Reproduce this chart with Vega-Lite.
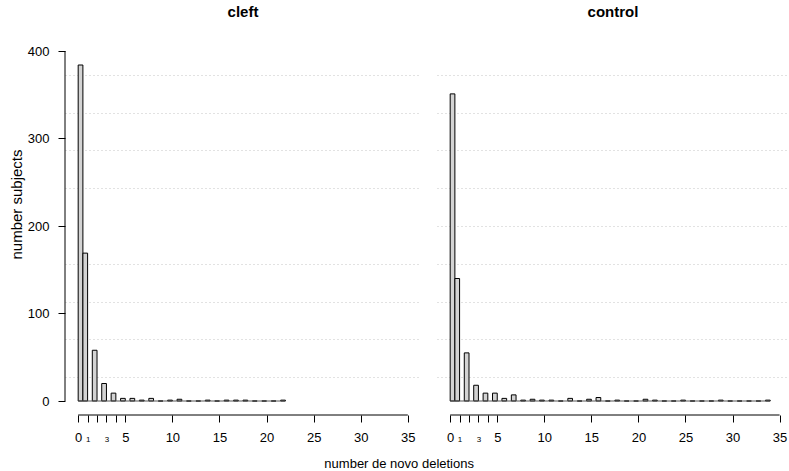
{
  "$schema": "https://vega.github.io/schema/vega-lite/v6.json",
  "padding": {"left": 9, "top": 5, "right": 0, "bottom": 0},
  "background": "white",
  "config": {"font": "Liberation Sans", "view": {"stroke": null}, "axis": {"labelOverlap": false, "labelFlush": false, "tickCount": 100}},
  "title": {"text": "number de novo deletions", "orient": "bottom", "anchor": "middle", "fontSize": 13, "fontWeight": "normal", "color": "black", "offset": 14},
  "datasets": {
    "cleft": [
      {"from": 0, "to": 0.5, "n": 384}, {"from": 0.5, "to": 1, "n": 169}, {"from": 1.5, "to": 2, "n": 58},
      {"from": 2.5, "to": 3, "n": 20}, {"from": 3.5, "to": 4, "n": 9}, {"from": 4.5, "to": 5, "n": 3},
      {"from": 5.5, "to": 6, "n": 3}, {"from": 6.5, "to": 7, "n": 1}, {"from": 7.5, "to": 8, "n": 3},
      {"from": 8.5, "to": 9, "n": 0}, {"from": 9.5, "to": 10, "n": 1}, {"from": 10.5, "to": 11, "n": 2},
      {"from": 11.5, "to": 12, "n": 0}, {"from": 12.5, "to": 13, "n": 0}, {"from": 13.5, "to": 14, "n": 1},
      {"from": 14.5, "to": 15, "n": 0}, {"from": 15.5, "to": 16, "n": 1}, {"from": 16.5, "to": 17, "n": 1},
      {"from": 17.5, "to": 18, "n": 1}, {"from": 18.5, "to": 19, "n": 0}, {"from": 19.5, "to": 20, "n": 0},
      {"from": 20.5, "to": 21, "n": 0}, {"from": 21.5, "to": 22, "n": 1}
    ],
    "control": [
      {"from": 0, "to": 0.5, "n": 351}, {"from": 0.5, "to": 1, "n": 140}, {"from": 1.5, "to": 2, "n": 55},
      {"from": 2.5, "to": 3, "n": 18}, {"from": 3.5, "to": 4, "n": 9}, {"from": 4.5, "to": 5, "n": 9},
      {"from": 5.5, "to": 6, "n": 3}, {"from": 6.5, "to": 7, "n": 7}, {"from": 7.5, "to": 8, "n": 1},
      {"from": 8.5, "to": 9, "n": 2}, {"from": 9.5, "to": 10, "n": 1}, {"from": 10.5, "to": 11, "n": 1},
      {"from": 11.5, "to": 12, "n": 0}, {"from": 12.5, "to": 13, "n": 3}, {"from": 13.5, "to": 14, "n": 0},
      {"from": 14.5, "to": 15, "n": 2}, {"from": 15.5, "to": 16, "n": 4}, {"from": 16.5, "to": 17, "n": 0},
      {"from": 17.5, "to": 18, "n": 1}, {"from": 18.5, "to": 19, "n": 0}, {"from": 19.5, "to": 20, "n": 0},
      {"from": 20.5, "to": 21, "n": 2}, {"from": 21.5, "to": 22, "n": 1}, {"from": 22.5, "to": 23, "n": 0},
      {"from": 23.5, "to": 24, "n": 0}, {"from": 24.5, "to": 25, "n": 1}, {"from": 25.5, "to": 26, "n": 0},
      {"from": 26.5, "to": 27, "n": 0}, {"from": 27.5, "to": 28, "n": 0}, {"from": 28.5, "to": 29, "n": 1},
      {"from": 29.5, "to": 30, "n": 0}, {"from": 30.5, "to": 31, "n": 0}, {"from": 31.5, "to": 32, "n": 0},
      {"from": 32.5, "to": 33, "n": 0}, {"from": 33.5, "to": 34, "n": 1}
    ]
  },
  "resolve": {"scale": {"x": "independent", "y": "independent"}},
  "spacing": 16,
  "hconcat": [
    {
      "width": 356, "height": 378,
      "title": {"text": "cleft", "fontSize": 15, "fontWeight": "bold", "color": "black", "baseline": "alphabetic", "offset": 5},
      "data": {"name": "cleft"},
      "layer": [
        {
          "mark": {"type": "bar", "fill": "#d3d3d3", "stroke": "black", "strokeWidth": 1},
          "encoding": {
            "x": {"field": "from", "type": "quantitative", "scale": {"domain": [-1.4, 36.4], "nice": false, "zero": false},
              "axis": {"title": null, "domain": false, "grid": false, "values": [0, 1, 2, 3, 4, 5, 10, 15, 20, 25, 30, 35], "tickCount": 100, "format": "d",
                "labelExpr": "datum.value == 2 || datum.value == 4 ? '' : datum.label",
                "labelFontSize": {"condition": {"test": "datum.value == 1 || datum.value == 3", "value": 8}, "value": 13},
                "labelBaseline": "alphabetic", "labelPadding": 19, "tickSize": 7, "tickColor": "black", "labelColor": "black",
                "labelOverlap": false, "labelFlush": false}},
            "x2": {"field": "to"},
            "y": {"field": "n", "type": "quantitative", "scale": {"domain": [-16, 416], "nice": false, "zero": false},
              "axis": {"title": "number subjects", "titleFontSize": 15, "titleFontWeight": "normal", "titleColor": "black", "titlePadding": 3, "titleY": 167,
                "domain": false, "grid": true, "values": [0, 27.2, 70.4, 100, 113.6, 156.8, 200, 243.2, 286.4, 300, 329.6, 372.8, 400], "tickCount": 100,
                "labelExpr": "datum.value % 100 == 0 ? datum.label : ''",
                "tickOpacity": {"condition": {"test": "datum.value % 100 == 0", "value": 1}, "value": 0},
                "gridOpacity": {"condition": {"test": "datum.value % 100 == 0", "value": 0}, "value": 1},
                "gridDash": [1, 3], "gridColor": "#c4c4c4", "tickSize": 7, "tickColor": "black", "labelOverlap": false,
                "labelFontSize": 13, "labelPadding": 9, "labelColor": "black"}},
            "y2": {"datum": 0}
          }
        },
        {
          "mark": {"type": "rule", "color": "#555555", "strokeWidth": 1},
          "encoding": {"x": {"aggregate": "min", "field": "from", "type": "quantitative"}, "x2": {"aggregate": "max", "field": "to"}, "y": {"datum": 0}}
        },
        {
          "data": {"values": [{}]},
          "mark": {"type": "rule", "color": "black", "strokeWidth": 1},
          "encoding": {"x": {"datum": 0}, "x2": {"datum": 35}, "y": {"datum": -16}}
        },
        {
          "data": {"values": [{}]},
          "mark": {"type": "rule", "color": "black", "strokeWidth": 1},
          "encoding": {"x": {"datum": -1.4}, "y": {"datum": 0}, "y2": {"datum": 400}}
        }
      ]
    },
    {
      "width": 352, "height": 378,
      "title": {"text": "control", "fontSize": 15, "fontWeight": "bold", "color": "black", "baseline": "alphabetic", "offset": 5},
      "data": {"name": "control"},
      "layer": [
        {
          "mark": {"type": "bar", "fill": "#d3d3d3", "stroke": "black", "strokeWidth": 1},
          "encoding": {
            "x": {"field": "from", "type": "quantitative", "scale": {"domain": [-1.4, 36.0], "nice": false, "zero": false},
              "axis": {"title": null, "domain": false, "grid": false, "values": [0, 1, 2, 3, 4, 5, 10, 15, 20, 25, 30, 35], "tickCount": 100, "format": "d",
                "labelExpr": "datum.value == 2 || datum.value == 4 ? '' : datum.label",
                "labelFontSize": {"condition": {"test": "datum.value == 1 || datum.value == 3", "value": 8}, "value": 13},
                "labelBaseline": "alphabetic", "labelPadding": 19, "tickSize": 7, "tickColor": "black", "labelColor": "black",
                "labelOverlap": false, "labelFlush": false}},
            "x2": {"field": "to"},
            "y": {"field": "n", "type": "quantitative", "scale": {"domain": [-16, 416], "nice": false, "zero": false},
              "axis": {"title": null, "labels": false, "ticks": false, "domain": false, "grid": true, "tickCount": 100,
                "values": [27.2, 70.4, 113.6, 156.8, 200, 243.2, 286.4, 329.6, 372.8],
                "gridDash": [1, 3], "gridColor": "#c4c4c4"}},
            "y2": {"datum": 0}
          }
        },
        {
          "mark": {"type": "rule", "color": "#555555", "strokeWidth": 1},
          "encoding": {"x": {"aggregate": "min", "field": "from", "type": "quantitative"}, "x2": {"aggregate": "max", "field": "to"}, "y": {"datum": 0}}
        },
        {
          "data": {"values": [{}]},
          "mark": {"type": "rule", "color": "black", "strokeWidth": 1},
          "encoding": {"x": {"datum": 0}, "x2": {"datum": 35}, "y": {"datum": -16}}
        }
      ]
    }
  ]
}
